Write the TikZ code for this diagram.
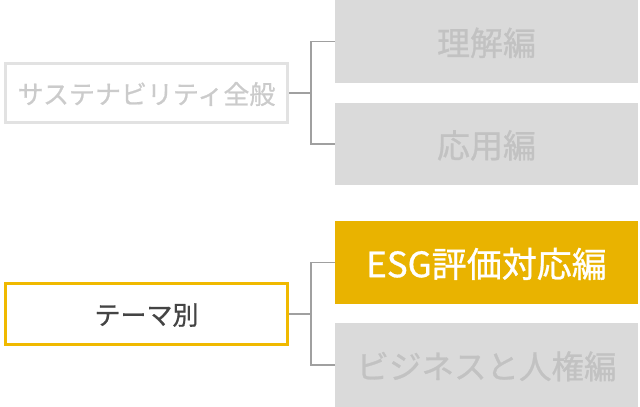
\documentclass[tikz,border=0pt]{standalone}
\usepackage{fontspec}
\setmainfont{Noto Sans CJK JP}[FakeBold=0.8]
\definecolor{gold}{HTML}{E9B300}
\definecolor{goldline}{HTML}{F0B900}
\definecolor{lgfill}{HTML}{DADADA}
\definecolor{lgtext}{HTML}{C2C2C2}
\definecolor{lgborder}{HTML}{E2E2E2}
\definecolor{lgtextb}{HTML}{CBCBCB}
\definecolor{darktext}{HTML}{444444}
\definecolor{connc}{HTML}{A0A0A0}
\begin{document}
\begin{tikzpicture}[x=1pt,y=-1pt,
  leftbox/.style={draw, line width=3pt, inner sep=0pt, text depth=0pt, minimum width=282pt, font=\fontsize{26}{30}\selectfont},
  rightbox/.style={fill=lgfill, inner sep=0pt, text depth=0pt, minimum width=303pt, text=lgtext, font=\fontsize{33}{38}\selectfont},
  conn/.style={draw=connc, line width=1.5pt}]
\useasboundingbox (0,0) rectangle (640,407);
% left boxes
\node[leftbox, draw=lgborder, text=lgtextb, minimum height=59pt] (sus) at (146.5,93) {サステナビリティ全般};
\node[leftbox, draw=goldline, text=darktext, minimum height=61pt] (theme) at (146.5,314) {テーマ別};
% right boxes
\node[rightbox, minimum height=83pt] (rikai) at (486.5,41.5) {理解編};
\node[rightbox, minimum height=82pt] (ouyou) at (486.5,144) {応用編};
\node[rightbox, fill=gold, text=white, minimum height=83pt, font=\fontsize{35}{40}\selectfont] (esg) at (486.5,262.5) {ESG評価対応編};
\node[rightbox, minimum height=84pt, font=\fontsize{32.5}{38}\selectfont] (biz) at (486.5,365) {ビジネスと人権編};
% connectors
\coordinate (j1) at (311,93);
\coordinate (j2) at (311,314);
\draw[conn] (sus.east) -- (j1);
\draw[conn] (rikai.west) -| (j1) |- (ouyou.west);
\draw[conn] (theme.east) -- (j2);
\draw[conn] (esg.west) -| (j2) |- (biz.west);
\end{tikzpicture}
\end{document}
